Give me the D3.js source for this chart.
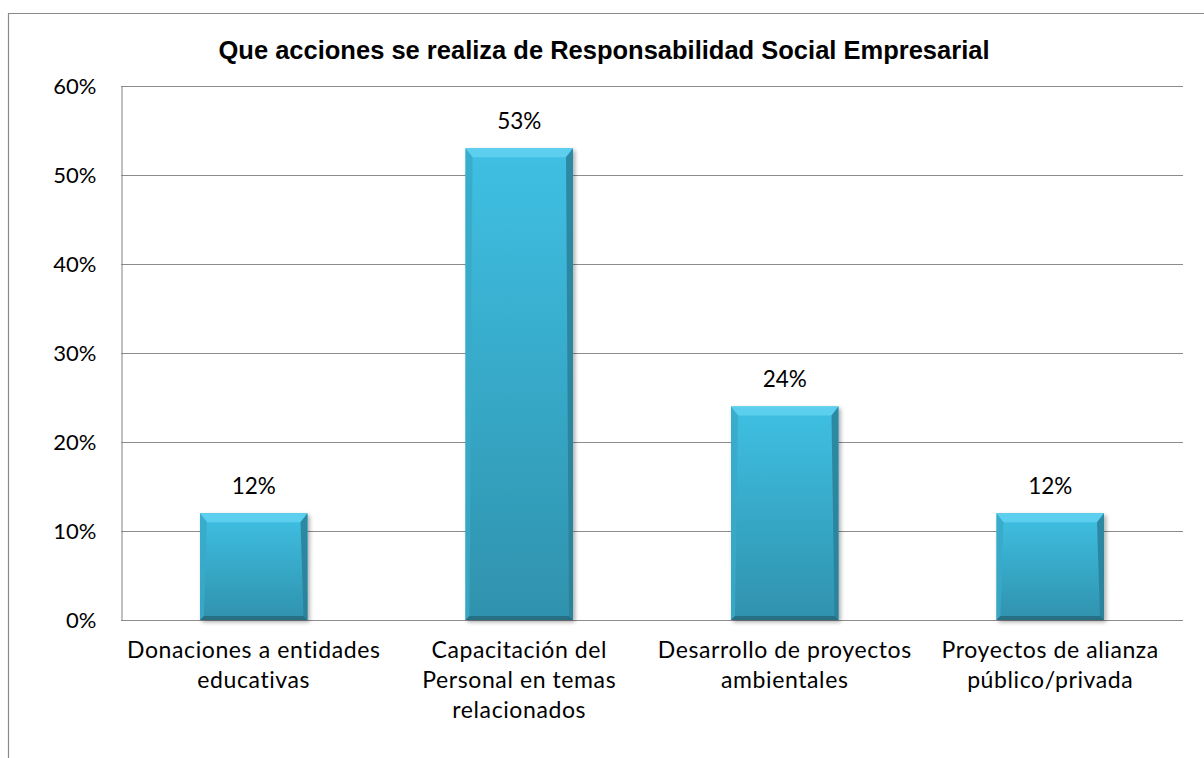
<!DOCTYPE html>
<html>
<head>
<meta charset="utf-8">
<script src="https://cdn.jsdelivr.net/npm/d3@7"></script>
<style>
  html, body { margin: 0; padding: 0; background: #ffffff; }
  svg { display: block; }
</style>
</head>
<body>
<svg id="chart" width="1204" height="758"></svg>
<script>
// Survey results: CSR actions carried out
const categories = [
  ["Donaciones a entidades", "educativas"],
  ["Capacitación del", "Personal en temas", "relacionados"],
  ["Desarrollo de proyectos", "ambientales"],
  ["Proyectos de alianza", "público/privada"]
];
const values = [0.12, 0.53, 0.24, 0.12];
const valueLabels = ["12%", "53%", "24%", "12%"];
const yTicks = [0, 0.1, 0.2, 0.3, 0.4, 0.5, 0.6];
const title = "Que acciones se realiza de Responsabilidad Social Empresarial";

const svg = d3.select("#chart");
const W = 1204, H = 758;
const plot = { left: 121, right: 1183, top: 86, bottom: 620 };
const labelFont = "Lato, 'Open Sans', sans-serif";

// outer chart frame (partly outside the view)
svg.append("path")
  .attr("d", `M8.5,${H + 2} L8.5,13.5 L${W + 2},13.5`)
  .attr("fill", "none").attr("stroke", "#8a8a8a").attr("stroke-width", 1.2);

const x = d3.scaleBand()
  .domain(d3.range(categories.length))
  .range([plot.left, plot.right])
  .paddingInner(0.595)
  .paddingOuter(0.2975);

const y = d3.scaleLinear().domain([0, 0.6]).range([plot.bottom, plot.top]);

// gridlines
svg.append("g")
  .selectAll("line")
  .data(yTicks)
  .join("line")
  .attr("x1", plot.left).attr("x2", plot.right)
  .attr("y1", d => Math.round(y(d)) + 0.5).attr("y2", d => Math.round(y(d)) + 0.5)
  .attr("stroke", "#8c8c8c").attr("stroke-width", 1.1);

// value axis
const yAxis = d3.axisLeft(y).tickValues(yTicks).tickFormat(d3.format(".0%")).tickSize(0).tickPadding(25);
const yg = svg.append("g").attr("transform", `translate(${plot.left + 0.5},0)`).call(yAxis);
yg.select(".domain").attr("stroke", "#8c8c8c").attr("stroke-width", 1.1);
yg.selectAll("text")
  .attr("font-family", labelFont).attr("font-size", 22).attr("fill", "#000");

// category labels
const cg = svg.append("g");
categories.forEach((lines, i) => {
  const t = cg.append("text")
    .attr("x", x(i) + x.bandwidth() / 2)
    .attr("y", 658)
    .attr("text-anchor", "middle")
    .attr("font-family", labelFont).attr("font-size", 23).attr("letter-spacing", 0.6)
    .attr("fill", "#000");
  lines.forEach((ln, j) => {
    t.append("tspan").attr("x", x(i) + x.bandwidth() / 2).attr("dy", j === 0 ? 0 : 30).text(ln);
  });
});

// bar gradients and shadow
const defs = svg.append("defs");
const face = defs.append("linearGradient").attr("id", "face").attr("x1", 0).attr("y1", 0).attr("x2", 0).attr("y2", 1);
face.append("stop").attr("offset", "0%").attr("stop-color", "#3fc0e3");
face.append("stop").attr("offset", "100%").attr("stop-color", "#2f92ad");
const shadow = defs.append("filter").attr("id", "shadow").attr("x", "-10%").attr("y", "-10%").attr("width", "130%").attr("height", "130%");
shadow.append("feGaussianBlur").attr("in", "SourceAlpha").attr("stdDeviation", 2);
shadow.append("feOffset").attr("dx", 2).attr("dy", 2).attr("result", "b");
shadow.append("feComponentTransfer").append("feFuncA").attr("type", "linear").attr("slope", 0.35);
const merge = shadow.append("feMerge");
merge.append("feMergeNode");
merge.append("feMergeNode").attr("in", "SourceGraphic");

// beveled bars
const bars = svg.append("g").selectAll("g.bar")
  .data(values)
  .join("g").attr("class", "bar");

bars.each(function (v, i) {
  const g = d3.select(this);
  const x0 = x(i), x1 = x(i) + x.bandwidth();
  const y0 = y(v), y1 = y(0);
  const bt = 9, bs = 4, bb = 4;
  g.append("rect")
    .attr("x", x0).attr("y", y0).attr("width", x1 - x0).attr("height", y1 - y0)
    .attr("fill", "url(#face)").attr("filter", "url(#shadow)");
  // top bevel
  g.append("path")
    .attr("d", `M${x0},${y0} L${x1},${y0} L${x1 - bs - 3},${y0 + bt} L${x0 + bs + 3},${y0 + bt} Z`)
    .attr("fill", "#5ccfee");
  // left bevel
  g.append("path")
    .attr("d", `M${x0},${y0} L${x0 + bs + 3},${y0 + bt} L${x0 + bs},${y1 - bb} L${x0},${y1} Z`)
    .attr("fill", "#3aa9c8").attr("opacity", 0.85);
  // right bevel
  g.append("path")
    .attr("d", `M${x1},${y0} L${x1 - bs - 3},${y0 + bt} L${x1 - bs},${y1 - bb} L${x1},${y1} Z`)
    .attr("fill", "#2a7f98").attr("opacity", 0.85);
  // bottom bevel
  g.append("path")
    .attr("d", `M${x0},${y1} L${x0 + bs},${y1 - bb} L${x1 - bs},${y1 - bb} L${x1},${y1} Z`)
    .attr("fill", "#266f85");
});

// value labels
svg.append("g").selectAll("text")
  .data(values)
  .join("text")
  .attr("x", (d, i) => x(i) + x.bandwidth() / 2)
  .attr("y", d => y(d) - 19)
  .attr("text-anchor", "middle")
  .attr("font-family", labelFont).attr("font-size", 22.5).attr("fill", "#000")
  .text((d, i) => valueLabels[i]);

// title
svg.append("text")
  .attr("x", 604).attr("y", 59)
  .attr("text-anchor", "middle")
  .attr("font-family", "'Liberation Sans', Arial, sans-serif")
  .attr("font-weight", "bold").attr("font-size", 25.5).attr("fill", "#000")
  .text(title);
</script>
</body>
</html>
